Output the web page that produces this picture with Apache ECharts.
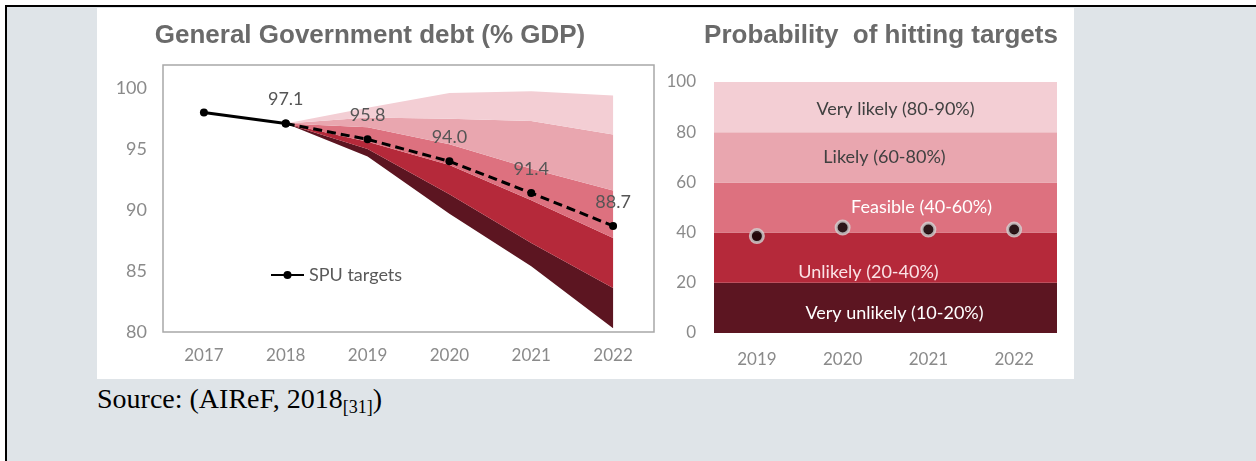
<!DOCTYPE html>
<html>
<head>
<meta charset="utf-8">
<script src="https://cdn.jsdelivr.net/npm/echarts@6/dist/echarts.min.js"></script>
<style>
  html, body { margin: 0; padding: 0; width: 1256px; height: 461px; overflow: hidden; background: #ffffff; }
  #frame { position: absolute; left: 5px; top: 5px; width: 1300px; height: 500px;
           border-left: 2px solid #000; border-top: 2px solid #000; background: #dfe4e8; }
  #panel { position: absolute; left: 97px; top: 8px; width: 977px; height: 371px; background: #ffffff; }
  #chart { position: absolute; left: 0; top: 0; width: 1256px; height: 461px; }
  #source { position: absolute; left: 97px; top: 383px; font-family: "Liberation Serif", "Times New Roman", serif;
            font-size: 28px; line-height: 32px; color: #000; white-space: nowrap; }
  #source sub { font-size: 18px; vertical-align: baseline; position: relative; top: 5px; }
</style>
</head>
<body>
<div id="frame"></div>
<div id="panel"></div>
<div id="source">Source: (AIReF, 2018<sub>[31]</sub>)</div>
<div id="chart"></div>
<script>
// ---- General Government debt (% GDP) ----
const debtYears = ['2017', '2018', '2019', '2020', '2021', '2022'];
const spuSolid  = [98.0, 97.1, null, null, null, null];
const spuTarget = [null, 97.1, 95.8, 94.0, 91.4, 88.7];

// Fan chart band edges, lowest to highest
const fanBottom  = [null, 97.1, 94.4, 89.7, 85.4, 80.3];
const fanEdge1   = [null, 97.1, 95.0, 91.3, 87.3, 83.6];
const fanEdge2   = [null, 97.1, 95.6, 93.7, 90.8, 87.7];
const fanEdge3   = [null, 97.1, 96.8, 95.4, 93.4, 91.6];
const fanEdge4   = [null, 97.1, 97.6, 97.5, 97.3, 96.2];
const fanTop     = [null, 97.1, 98.4, 99.6, 99.75, 99.4];
const debtTicks  = [80, 85, 90, 95, 100];

// ---- Probability of hitting targets ----
const probYears  = ['2019', '2020', '2021', '2022'];
const probValues = [38.6, 42.0, 41.2, 41.2];
const bandEdges  = [0, 20, 40, 60, 80, 100];
const bandNames  = ['Very unlikely (10-20%)', 'Unlikely (20-40%)', 'Feasible (40-60%)',
                    'Likely (60-80%)', 'Very likely (80-90%)'];
const probTicks  = [0, 20, 40, 60, 80, 100];

const bandColors = ['#5c1521', '#b5293a', '#dd717f', '#e9a6af', '#f3ced4'];
const bandTextColors = ['#ffffff', '#fbe3e6', '#ffffff', '#404040', '#404040'];
const bandLabelOffsets = [[9, 5], [-17, 14], [36, 0], [-1, 0], [10, 2]];

const labelFont = 'Lato, "Open Sans", sans-serif';
const axisGrey = '#8a8a8a';

const fanEdges = [fanBottom, fanEdge1, fanEdge2, fanEdge3, fanEdge4, fanTop];
const fanSeries = [{
  type: 'line', stack: 'fan', data: fanBottom, symbol: 'none', silent: true,
  lineStyle: { opacity: 0 }, xAxisIndex: 0, yAxisIndex: 0, z: 1
}];
for (let b = 1; b < fanEdges.length; b++) {
  const diff = fanEdges[b].map((v, i) => v == null ? null : +(v - fanEdges[b - 1][i]).toFixed(3));
  fanSeries.push({
    type: 'line', stack: 'fan', data: diff, symbol: 'none', silent: true,
    lineStyle: { opacity: 0 }, areaStyle: { color: bandColors[b - 1], opacity: 1 },
    xAxisIndex: 0, yAxisIndex: 0, z: 1
  });
}

const bandAreas = bandNames.map((name, i) => [
  { yAxis: bandEdges[i], name: name,
    itemStyle: { color: bandColors[i] },
    label: { color: bandTextColors[i], offset: bandLabelOffsets[i] } },
  { yAxis: bandEdges[i + 1] }
]);

const chart = echarts.init(document.getElementById('chart'), null, { renderer: 'canvas' });
chart.setOption({
  animation: false,
  backgroundColor: 'transparent',
  graphic: [
    { type: 'text', x: 370, y: 36, style: { text: 'General Government debt (% GDP)', textAlign: 'center', textVerticalAlign: 'middle',
      font: 'bold 26px "Liberation Sans", Arial, sans-serif', fill: '#6a6a6a' } },
    { type: 'text', x: 881, y: 36, style: { text: 'Probability  of hitting targets', textAlign: 'center', textVerticalAlign: 'middle',
      font: 'bold 26px "Liberation Sans", Arial, sans-serif', fill: '#6a6a6a' } }
  ],
  legend: {
    data: ['SPU targets'], left: 265, top: 261, itemWidth: 33, itemHeight: 10, itemGap: 4,
    textStyle: { fontFamily: labelFont, fontSize: 18, color: '#595959' }
  },
  grid: [
    { left: 163, right: 602, top: 65, bottom: 129, show: true, borderColor: '#a8a8a8', borderWidth: 1.5, backgroundColor: 'transparent' },
    { left: 714, right: 199, top: 82, bottom: 128 }
  ],
  xAxis: [
    { type: 'category', gridIndex: 0, data: debtYears, boundaryGap: true,
      axisLine: { show: false }, axisTick: { show: false },
      axisLabel: { margin: 15, fontFamily: labelFont, fontSize: 17, color: axisGrey } },
    { type: 'category', gridIndex: 1, data: probYears, boundaryGap: true,
      axisLine: { show: false }, axisTick: { show: false },
      axisLabel: { margin: 18, fontFamily: labelFont, fontSize: 17, color: axisGrey } }
  ],
  yAxis: [
    { type: 'value', gridIndex: 0, min: debtTicks[0], max: 101.9, interval: 5,
      splitLine: { show: false }, axisLine: { show: false }, axisTick: { show: false },
      axisLabel: { margin: 16, showMaxLabel: false, fontFamily: labelFont, fontSize: 18, color: axisGrey } },
    { type: 'value', gridIndex: 1, min: probTicks[0], max: probTicks[probTicks.length - 1], interval: 20,
      splitLine: { show: false }, axisLine: { show: false }, axisTick: { show: false },
      axisLabel: { margin: 18, fontFamily: labelFont, fontSize: 17, color: axisGrey } }
  ],
  series: [
    ...fanSeries,
    { name: 'SPU targets', type: 'line', data: spuSolid, xAxisIndex: 0, yAxisIndex: 0, z: 5,
      symbol: 'circle', symbolSize: 8, showAllSymbol: true,
      itemStyle: { color: '#000' }, lineStyle: { color: '#000', width: 3 } },
    { name: 'SPU targets', type: 'line', data: spuTarget, xAxisIndex: 0, yAxisIndex: 0, z: 5,
      symbol: 'circle', symbolSize: 8,
      itemStyle: { color: '#000' }, lineStyle: { color: '#000', width: 3, type: [9, 5] },
      label: { show: true, position: 'top', distance: 11, fontFamily: labelFont, fontSize: 18, color: '#555555',
        formatter: p => p.value == null ? '' : Number(p.value).toFixed(1) } },
    { name: 'Probability', type: 'scatter', data: probValues, xAxisIndex: 1, yAxisIndex: 1, z: 5,
      symbol: 'circle', symbolSize: 13,
      itemStyle: { color: '#000', borderColor: '#d4d4d4', borderWidth: 3 },
      markArea: {
        silent: true,
        label: { show: true, position: 'inside', fontFamily: labelFont, fontSize: 18 },
        data: bandAreas
      } }
  ]
});
</script>
</body>
</html>
